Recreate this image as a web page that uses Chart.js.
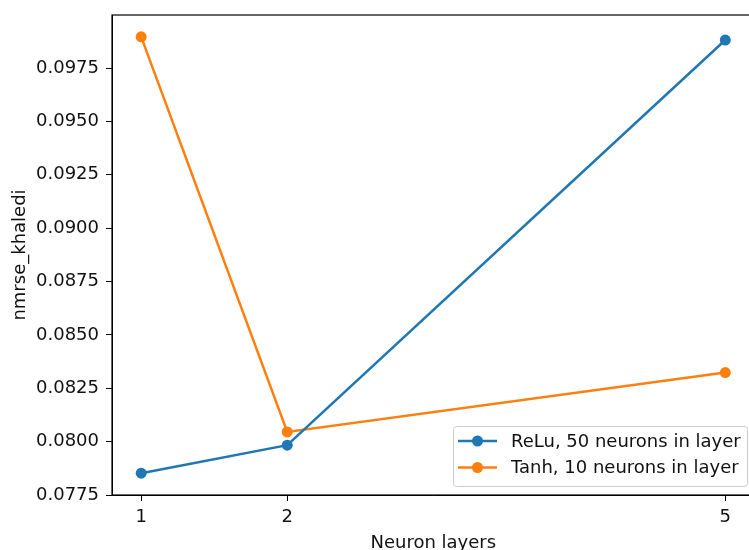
<!DOCTYPE html>
<html>
<head>
<meta charset="utf-8">
<script src="https://cdn.jsdelivr.net/npm/chart.js@4/dist/chart.umd.min.js"></script>
<style>
  html, body { margin: 0; padding: 0; background: #fff; overflow: hidden; }
  #wrap { width: 760px; height: 550px; }
</style>
</head>
<body>
<div id="wrap"><canvas id="chart" width="760" height="550"></canvas></div>
<script>
// data
var layers = [1, 2, 5];
var reluValues = [0.07853, 0.07984, 0.09881];
var tanhValues = [0.09896, 0.08046, 0.08324];
var yTicks = [0.0775, 0.0800, 0.0825, 0.0850, 0.0875, 0.0900, 0.0925, 0.0950, 0.0975];
var xTicks = [1, 2, 5];
var seriesNames = ["ReLu, 50 neurons in layer", "Tanh, 10 neurons in layer"];
var seriesColors = ["#1f77b4", "#ff7f0e"];

var FONT = "'DejaVu Sans', sans-serif";
var FS = 18;
var TXT = "#111";

// matplotlib style 5% margins
var allY = reluValues.concat(tanhValues);
var yMin = Math.min.apply(null, allY), yMax = Math.max.apply(null, allY);
var yPad = (yMax - yMin) * 0.05;
var xPad = (Math.max.apply(null, layers) - Math.min.apply(null, layers)) * 0.05;

function toPoints(vals) {
    return layers.map(function (x, i) { return { x: x, y: vals[i] }; });
}

// spines on all sides
var framePlugin = {
    id: "frame",
    afterDatasetsDraw: function (chart) {
        var a = chart.chartArea, ctx = chart.ctx;
        ctx.save();
        ctx.strokeStyle = "#000";
        ctx.lineWidth = 1.2;
        ctx.strokeRect(a.left, a.top, a.right - a.left, a.bottom - a.top);
        ctx.restore();
    }
};

// matplotlib-like legend in lower right
var legendPlugin = {
    id: "mplLegend",
    afterDraw: function (chart) {
        var ctx = chart.ctx;
        var x0 = 453, y0 = 426, w = 294, h = 60;
        ctx.save();
        ctx.beginPath();
        ctx.roundRect(x0 + 0.5, y0 + 0.5, w, h, 3);
        ctx.fillStyle = "rgba(255,255,255,0.8)";
        ctx.fill();
        ctx.strokeStyle = "#cccccc";
        ctx.lineWidth = 1;
        ctx.stroke();
        ctx.font = FS + "px " + FONT;
        ctx.textBaseline = "middle";
        for (var i = 0; i < seriesNames.length; i++) {
            var yy = 441 + i * 26.5;
            ctx.strokeStyle = seriesColors[i];
            ctx.lineWidth = 2.5;
            ctx.beginPath();
            ctx.moveTo(458, yy);
            ctx.lineTo(497, yy);
            ctx.stroke();
            ctx.beginPath();
            ctx.arc(477.5, yy, 5.5, 0, Math.PI * 2);
            ctx.fillStyle = seriesColors[i];
            ctx.fill();
            ctx.fillStyle = TXT;
            ctx.fillText(seriesNames[i], 511, yy + 1);
        }
        ctx.restore();
    }
};

var ctx = document.getElementById("chart").getContext("2d");
var myChart = new Chart(ctx, {
    type: "line",
    data: {
        datasets: [{
            label: seriesNames[0],
            data: toPoints(reluValues),
            borderColor: seriesColors[0],
            backgroundColor: seriesColors[0],
            borderWidth: 2.5,
            pointRadius: 5.5,
            pointHoverRadius: 5.5,
            pointBorderWidth: 0,
            tension: 0
        }, {
            label: seriesNames[1],
            data: toPoints(tanhValues),
            borderColor: seriesColors[1],
            backgroundColor: seriesColors[1],
            borderWidth: 2.5,
            pointRadius: 5.5,
            pointHoverRadius: 5.5,
            pointBorderWidth: 0,
            tension: 0
        }]
    },
    options: {
        responsive: false,
        animation: false,
        layout: { padding: { left: 0, top: 15, right: 4, bottom: 0 } },
        plugins: {
            legend: { display: false },
            tooltip: { enabled: false }
        },
        scales: {
            x: {
                type: "linear",
                min: Math.min.apply(null, layers) - xPad,
                max: Math.max.apply(null, layers) + xPad,
                afterBuildTicks: function (scale) {
                    scale.ticks = xTicks.map(function (v) { return { value: v }; });
                },
                afterFit: function (scale) {
                    scale.height = 55;
                    scale.paddingLeft = 0;
                    scale.paddingRight = 0;
                },
                grid: { display: true, drawOnChartArea: false, drawTicks: true, tickLength: 6, color: "#000", lineWidth: 1 },
                border: { display: true, color: "#000", width: 1 },
                ticks: {
                    color: TXT,
                    font: { family: FONT, size: FS },
                    padding: 6,
                    maxRotation: 0,
                    callback: function (v) { return String(v); }
                },
                title: {
                    display: true,
                    text: "Neuron layers",
                    color: TXT,
                    font: { family: FONT, size: FS },
                    padding: { top: 0, bottom: -4 }
                }
            },
            y: {
                type: "linear",
                min: yMin - yPad,
                max: yMax + yPad,
                afterBuildTicks: function (scale) {
                    scale.ticks = yTicks.map(function (v) { return { value: v }; });
                },
                afterFit: function (scale) {
                    scale.width = 112;
                    scale.paddingTop = 0;
                    scale.paddingBottom = 0;
                },
                grid: { display: true, drawOnChartArea: false, drawTicks: true, tickLength: 6, color: "#000", lineWidth: 1 },
                border: { display: true, color: "#000", width: 1 },
                ticks: {
                    color: TXT,
                    font: { family: FONT, size: FS },
                    padding: 7,
                    callback: function (v) { return v.toFixed(4); }
                },
                title: {
                    display: true,
                    text: "nmrse_khaledi",
                    color: TXT,
                    font: { family: FONT, size: FS },
                    padding: { top: 10, bottom: 0 }
                }
            }
        }
    },
    plugins: [framePlugin, legendPlugin]
});
</script>
</body>
</html>
